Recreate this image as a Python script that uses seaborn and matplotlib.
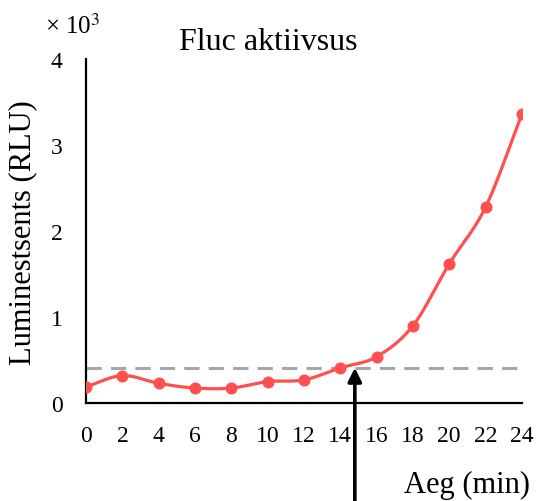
import numpy as np
import matplotlib
matplotlib.use("Agg")
import matplotlib.pyplot as plt
import seaborn as sns

# ── Data ──────────────────────────────────────────────────────────────────────
TIME_MIN = [0, 2, 4, 6, 8, 10, 12, 14, 16, 18, 20, 22, 24]
RLU_K    = [0.19, 0.32, 0.23, 0.175, 0.175, 0.25, 0.27, 0.41, 0.54, 0.90, 1.62, 2.28, 3.36]
THRESHOLD = 0.41
CROSS_T   = 14.8

RED  = "#FF4F4F"
GREY = "#A6A6A6"


def smooth_curve(x, y, steps=24):
    """Catmull-Rom style smoothing like Excel's 'smoothed line' (drawing only)."""
    x = np.asarray(x, float)
    y = np.asarray(y, float)
    px = np.concatenate([[2 * x[0] - x[1]], x, [2 * x[-1] - x[-2]]])
    py = np.concatenate([[2 * y[0] - y[1]], y, [2 * y[-1] - y[-2]]])
    t = np.linspace(0, 1, steps)
    xs, ys = [], []
    for i in range(1, len(px) - 2):
        p0, p1, p2, p3 = (np.array([px[j], py[j]]) for j in (i - 1, i, i + 1, i + 2))
        c1 = p1 + (p2 - p0) / 6
        c2 = p2 - (p3 - p1) / 6
        b = ((1 - t) ** 3)[:, None] * p1 + (3 * (1 - t) ** 2 * t)[:, None] * c1 \
            + (3 * (1 - t) * t ** 2)[:, None] * c2 + (t ** 3)[:, None] * p2
        xs.append(b[:, 0])
        ys.append(b[:, 1])
    return np.concatenate(xs), np.concatenate(ys)


sns.set_style("white")
plt.rcParams.update({
    "font.family": ["Liberation Serif", "DejaVu Serif"],
    "mathtext.fontset": "stix",
    "text.color": "black",
    "axes.labelcolor": "black",
})

fig = plt.figure(figsize=(5.38, 5.02), dpi=100)
ax = fig.add_axes([0.160, 0.195, 0.810, 0.685])

# threshold
ax.axhline(THRESHOLD, xmin=0, xmax=1, color=GREY, lw=2.2, dashes=(5, 3), zorder=1)

sx, sy = smooth_curve(TIME_MIN, RLU_K)
ax.plot(sx, sy, color=RED, lw=2.3, zorder=2, solid_capstyle="round")
sns.scatterplot(x=TIME_MIN, y=RLU_K, ax=ax, color=RED, s=75, edgecolor=RED,
                linewidth=0, zorder=3)

ax.set_xlim(0, 24)
ax.set_ylim(0, 4)
ax.set_xticks(TIME_MIN)
ax.set_yticks([0, 1, 2, 3, 4])
ax.set_xticklabels([str(v) for v in TIME_MIN])
ax.set_yticklabels(["0", "1", "2", "3", "4"])

for s in ("top", "right"):
    ax.spines[s].set_visible(False)
for s in ("left", "bottom"):
    ax.spines[s].set_color("black")
    ax.spines[s].set_linewidth(1.6)
ax.tick_params(axis="both", direction="out", length=7, width=1.5, colors="black",
               labelsize=17)
ax.tick_params(axis="x", pad=9)
ax.tick_params(axis="y", pad=10)

fig.text(0.498, 0.916, "Fluc aktiivsus", fontsize=23, ha="center", va="center")
ax.set_ylabel("Luminestsents (RLU)", fontsize=22)
ax.yaxis.set_label_coords(-0.112, 0.5)

fig.text(0.084, 0.948, "× 10$^3$", fontsize=18, ha="left", va="center")
fig.text(0.986, 0.004, "Aeg (min)", fontsize=22, ha="right", va="bottom")

# arrow from below pointing up to crossing
ax.annotate("", xy=(CROSS_T, THRESHOLD), xycoords="data",
            xytext=(CROSS_T, -1.3), textcoords="data",
            arrowprops=dict(arrowstyle="-|>,head_width=0.4,head_length=0.8",
                            color="black", lw=2.6, shrinkA=0, shrinkB=0),
            annotation_clip=False, zorder=5)

fig.savefig("out.png", dpi=100)
